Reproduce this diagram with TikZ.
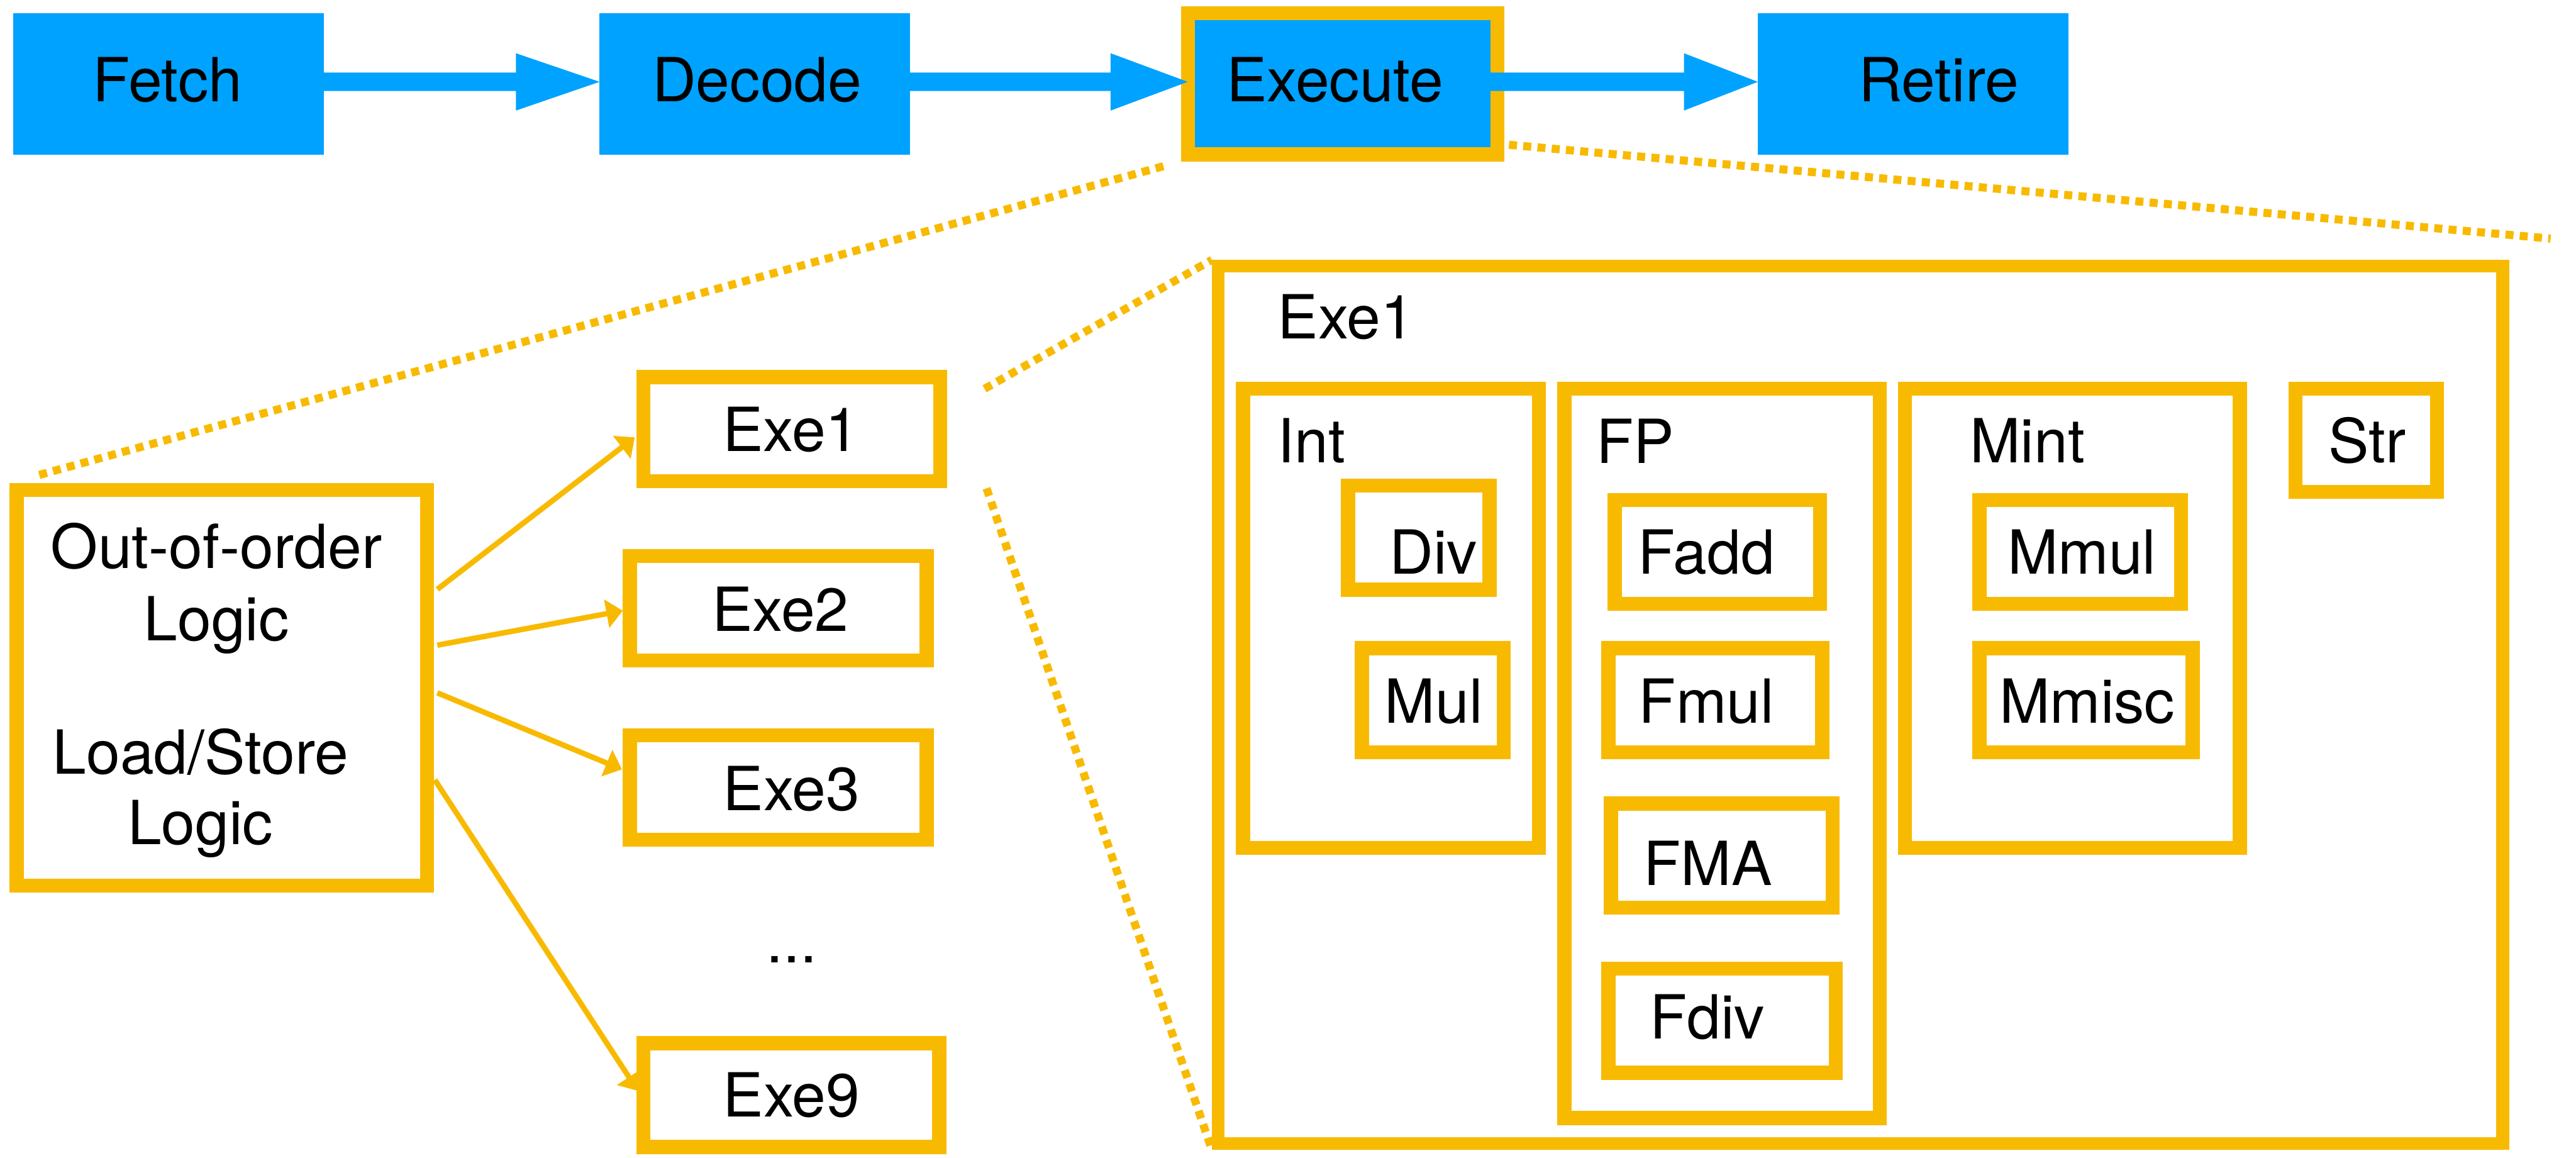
\documentclass[tikz,border=0pt]{standalone}
\usepackage{fontspec}
\setmainfont{TeX Gyre Heros}
\usetikzlibrary{arrows.meta,calc}
\definecolor{pipeblue}{RGB}{0,162,255}
\definecolor{unitorange}{RGB}{248,186,0}
\pgfdeclarelayer{background}
\pgfsetlayers{background,main}

% orange unit box given by the corners of its stroke centre line
\newcommand\unitnode[6][8.6]{%
  \node[unitbox, line width=#1pt, minimum width={#5-#3}, minimum height={#6-#4}]
    (#2) at ({(#3+#5)/2},{(#4+#6)/2}) {};}

% wide pipeline arrow from one stage to the next
\newcommand\stagearrow[3]{%
  \fill[pipeblue] ($(#1.east)+(-4.3,-6.8)$) -- ($(#2.west)+(-#3,-6.8)$)
    -- ($(#2.west)+(-#3,-18.6)$) -- ($(#2.west)+(0,-1.2)$)
    -- ($(#2.west)+(-#3,16.3)$) -- ($(#2.west)+(-#3,4.4)$)
    -- ($(#1.east)+(-4.3,4.4)$) -- cycle;}

\begin{document}
\begin{tikzpicture}[x=1pt,y=-1pt,
  lbl/.style={inner sep=0pt, font=\fontsize{37}{44}\selectfont},
  stagebox/.style={fill=pipeblue, inner sep=0pt, outer sep=0pt,
    minimum width=189pt, minimum height=86pt},
  unitbox/.style={draw=unitorange, fill=white, inner sep=0pt},
  fanout/.style={draw=unitorange, line width=3.3pt,
    -{Triangle[length=10pt,width=17pt]}},
  zoomline/.style={draw=unitorange, line width=4.9pt,
    dash pattern=on 4.9pt off 3.8pt},
]
\useasboundingbox (0,0) rectangle (1568,704.4);

% pipeline stages
\node[stagebox] (fetch) at (102.5,51) {};
\node[stagebox] (decode) at (459.5,51) {};
\node[stagebox, draw=unitorange, line width=8.5pt, minimum width=188.5pt]
  (execute) at (817.25,51) {};
\node[stagebox] (retire) at (1164.5,51) {};

\stagearrow{fetch}{decode}{51}
\stagearrow{decode}{execute}{47}
\stagearrow{execute}{retire}{45}

\node[lbl, anchor=base] (fetchtxt) at (102,62) {Fetch};
\node[lbl, anchor=base] (decodetxt) at (460.8,62) {Decode};
\node[lbl, anchor=base] (executetxt) at (812.5,62) {Execute};
\node[lbl, anchor=base] (retiretxt) at (1180,62) {Retire};

% execution back end and Exe1 detail box
\unitnode{ooo}{10.1}{298.3}{259.9}{539}
\unitnode{exeA}{391.7}{229.5}{572.2}{292.8}
\unitnode{exeB}{383.4}{338.3}{564}{402}
\unitnode{exeC}{383.4}{447.5}{564}{511}
\unitnode{exeI}{391.6}{634.8}{571.8}{698}
\unitnode[7.7]{big}{741.5}{162}{1523.4}{696}

% zoom guides, kept behind the boxes
\coordinate (zr) at (1552.5,145.2);
\coordinate (zm1) at (599.3,236.6);
\coordinate (zm2) at (600.5,297.2);
\begin{pgfonlayer}{background}
\draw[zoomline, shorten <=11pt, shorten >=16pt]
  ($(execute.south west)+(-4.25,4.25)$) -- (ooo.north west);
\draw[zoomline] ($(execute.east)+(7,37.1)$) -- (zr);
\draw[zoomline] (zm1) -- (big.north west);
\draw[zoomline] (zm2) -- (big.south west);
\end{pgfonlayer}

% issue arrows
\draw[fanout] ($(ooo.east)+(2,-60)$) -- ($(exeA.west)+(-1,5)$);
\draw[fanout] ($(ooo.east)+(2,-26)$) -- ($(exeB.west)+(0,1.5)$);
\draw[fanout] ($(ooo.east)+(2,3)$) -- ($(exeC.west)+(-0.5,-11)$);
\draw[fanout] ($(ooo.east)+(0.5,56)$) -- ($(exeI.west)+(1,-2.5)$);

\node[lbl, anchor=base] (oooA) at (131.7,346) {Out-of-order};
\node[lbl, anchor=base] (oooB) at (131.7,390) {Logic};
\node[lbl, anchor=base] (lsA) at (122.1,471) {Load/Store};
\node[lbl, anchor=base] (lsB) at (122,514) {Logic};

\node[lbl, anchor=base] (exeAtxt) at (481.5,274.8) {Exe1};
\node[lbl, anchor=base] (exeBtxt) at (475,384) {Exe2};
\node[lbl, anchor=base] (exeCtxt) at (481.7,493.2) {Exe3};
\node[lbl, anchor=base] (dotstxt) at (482,586) {...};
\node[lbl, anchor=base] (exeItxt) at (481.7,679.8) {Exe9};

% functional units of Exe1
\unitnode{int}{756.7}{236.5}{936.7}{516}
\unitnode{div}{820.5}{295.5}{906.7}{358.8}
\unitnode{mul}{829}{394.5}{915.2}{457.8}
\unitnode{fp}{952.2}{236.5}{1144.2}{680.5}
\unitnode{fadd}{982.8}{304.4}{1107.8}{367.5}
\unitnode{fmul}{979}{394.5}{1109.2}{457.8}
\unitnode{fma}{980.6}{489}{1115.6}{552.4}
\unitnode{fdiv}{979}{589.5}{1117.5}{652.9}
\unitnode{mint}{1159.5}{236.5}{1363.3}{516}
\unitnode{mmul}{1204.8}{304.4}{1327.5}{367.5}
\unitnode{mmisc}{1204.8}{394.5}{1334.7}{457.8}
\unitnode{str}{1397.3}{236.5}{1483.3}{299.4}

\node[lbl, anchor=base west] (bigtxt) at (777.5,206) {Exe1};
\node[lbl, anchor=base west] (inttxt) at (777.5,281.7) {Int};
\node[lbl, anchor=base west] (fptxt) at (971.5,282) {FP};
\node[lbl, anchor=base west] (minttxt) at (1198.9,281.7) {Mint};
\node[lbl, anchor=base] (strtxt) at (1441,281.7) {Str};
\node[lbl, anchor=base] (divtxt) at (872.5,349.5) {Div};
\node[lbl, anchor=base] (multxt) at (872.7,440) {Mul};
\node[lbl, anchor=base] (faddtxt) at (1038.7,349.5) {Fadd};
\node[lbl, anchor=base] (fmultxt) at (1038.7,440) {Fmul};
\node[lbl, anchor=base] (fmatxt) at (1039.5,538.7) {FMA};
\node[lbl, anchor=base] (fdivtxt) at (1039.2,632.1) {Fdiv};
\node[lbl, anchor=base] (mmultxt) at (1267.2,349.5) {Mmul};
\node[lbl, anchor=base] (mmisctxt) at (1270.4,440) {Mmisc};
\end{tikzpicture}
\end{document}
